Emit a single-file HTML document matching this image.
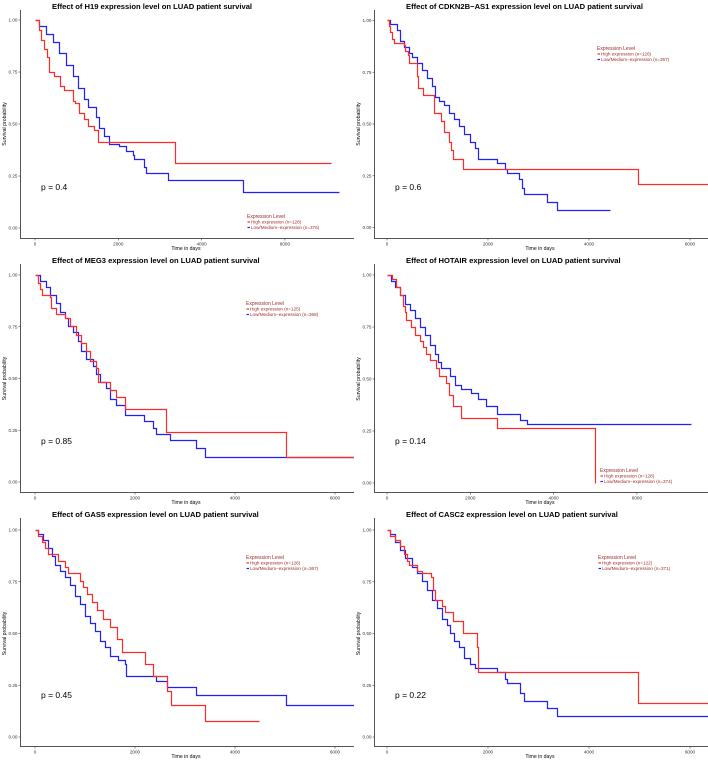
<!DOCTYPE html>
<html><head><meta charset="utf-8">
<style>
html,body{margin:0;padding:0;background:#fff;}
svg{display:block;font-family:"Liberation Sans",sans-serif;}
</style></head>
<body>
<svg id="fig" width="708" height="762" viewBox="0 0 708 762" xmlns="http://www.w3.org/2000/svg"></svg>
<script>
// ---- data (days, survival probability) ----
const p1RedT=[120,160,230,290,340,480,620,720,920,980,1080,1200,1280,1440,1520,3380];
const p1RedS=[0.95,0.90,0.86,0.82,0.75,0.73,0.68,0.66,0.61,0.60,0.55,0.52,0.49,0.47,0.41,0.31];
const p1BlueT=[120,280,440,600,760,920,1040,1200,1280,1480,1560,1680,1800,2040,2200,2360,2400,2640,2680,3200,5000];
const p1BlueS=[0.97,0.93,0.89,0.84,0.78,0.73,0.67,0.62,0.58,0.53,0.48,0.44,0.40,0.39,0.37,0.35,0.33,0.29,0.26,0.23,0.17];
const p2RedT=[40,73,106,150,340,370,420,436,600,630,730,950,1076,1142,1241,1274,1307,1511,4976];
const p2RedS=[0.97,0.94,0.91,0.89,0.88,0.85,0.83,0.79,0.73,0.67,0.64,0.55,0.51,0.46,0.41,0.37,0.33,0.28,0.21];
const p2BlueT=[73,205,270,340,436,500,600,700,800,900,964,1030,1130,1228,1327,1426,1525,1657,1756,1802,2185,2350,2396,2614,2680,2713,3175,3373];
const p2BlueS=[0.98,0.95,0.90,0.87,0.84,0.82,0.79,0.76,0.72,0.68,0.63,0.61,0.59,0.55,0.52,0.49,0.45,0.41,0.38,0.33,0.31,0.28,0.26,0.23,0.19,0.16,0.12,0.08];
const p3RedT=[67,100,153,300,333,420,600,700,833,933,1020,1100,1233,1267,1500,1620,1800,2633,5020];
const p3RedS=[0.96,0.93,0.90,0.89,0.84,0.81,0.79,0.75,0.71,0.67,0.63,0.58,0.55,0.48,0.44,0.41,0.35,0.24,0.12];
const p3BlueT=[100,233,300,433,500,600,667,767,867,933,1033,1167,1233,1300,1433,1500,1633,1800,2180,2367,2420,2713,3220,3413];
const p3BlueS=[0.97,0.94,0.90,0.86,0.82,0.79,0.75,0.72,0.68,0.63,0.59,0.56,0.52,0.48,0.45,0.40,0.37,0.32,0.29,0.26,0.23,0.20,0.16,0.12];
const p4RedT=[144,240,320,400,440,480,600,680,800,880,960,1056,1184,1264,1440,1504,1600,1800,2656,5000];
const p4RedS=[0.98,0.94,0.90,0.85,0.82,0.78,0.75,0.71,0.68,0.65,0.62,0.59,0.55,0.51,0.48,0.42,0.37,0.31,0.26,0.0];
const p4BlueT=[120,200,320,440,560,680,800,920,1040,1160,1240,1320,1520,1640,1800,2040,2200,2400,2656,3200,3376];
const p4BlueS=[0.97,0.94,0.90,0.86,0.83,0.79,0.75,0.71,0.66,0.62,0.58,0.55,0.51,0.47,0.45,0.43,0.40,0.37,0.33,0.30,0.28];
const p5RedT=[73,140,207,273,473,607,673,907,973,1040,1140,1240,1373,1507,1640,1740,2207,2360,2653,2720,3407];
const p5RedS=[0.97,0.94,0.91,0.88,0.85,0.82,0.79,0.75,0.72,0.69,0.65,0.61,0.57,0.53,0.47,0.41,0.35,0.29,0.22,0.15,0.075];
const p5BlueT=[73,173,273,340,407,507,607,707,807,907,1007,1107,1207,1307,1407,1507,1673,1807,1827,2420,2653,3220,5027];
const p5BlueS=[0.98,0.95,0.91,0.87,0.83,0.80,0.77,0.73,0.68,0.64,0.58,0.55,0.51,0.46,0.43,0.39,0.37,0.35,0.29,0.27,0.24,0.20,0.15];
const p6RedT=[73,172,270,337,403,436,600,700,878,917,964,1096,1162,1314,1512,1789,1809,4977];
const p6RedS=[0.97,0.95,0.92,0.88,0.85,0.83,0.80,0.79,0.77,0.71,0.66,0.63,0.60,0.56,0.50,0.43,0.31,0.16];
const p6BlueT=[73,172,270,370,502,600,700,800,898,997,1096,1195,1261,1327,1426,1525,1657,1756,2185,2350,2396,2634,2713,3175,3373];
const p6BlueS=[0.98,0.94,0.90,0.86,0.82,0.79,0.75,0.71,0.66,0.62,0.57,0.54,0.50,0.46,0.43,0.38,0.35,0.33,0.31,0.28,0.26,0.21,0.17,0.14,0.10];
const genes=["H19","CDKN2B\u2212AS1","MEG3","HOTAIR","GAS5","CASC2"];
const pValues=["0.4","0.6","0.85","0.14","0.45","0.22"];
const nHigh=[128,126,125,128,126,122];
const nLow=[376,367,368,374,367,371];
const redEnd=[7120,6400,6400,5000,4480,6400];
const blueEnd=[7320,4429,6400,7320,6400,6400];
const xTicks=[0,2000,4000,6000];
const yTicks=[0,0.25,0.5,0.75,1];
const yTickLabels=["0.00","0.25","0.50","0.75","1.00"];

const panels=[
 {ox:0,oy:0,x0:35,k:83.3,y1:20,y0:228,lx:247,ly:218,red:[p1RedT,p1RedS],blue:[p1BlueT,p1BlueS]},
 {ox:354,oy:0,x0:33,k:101,y1:20.5,y0:227.5,lx:243,ly:50,red:[p2RedT,p2RedS],blue:[p2BlueT,p2BlueS]},
 {ox:0,oy:254,x0:35,k:100,y1:21,y0:228,lx:246,ly:51,red:[p3RedT,p3RedS],blue:[p3BlueT,p3BlueS]},
 {ox:354,oy:254,x0:33,k:83.3,y1:21,y0:229,lx:246,ly:218,red:[p4RedT,p4RedS],blue:[p4BlueT,p4BlueS]},
 {ox:0,oy:508,x0:35,k:100,y1:22,y0:229,lx:246,ly:51,red:[p5RedT,p5RedS],blue:[p5BlueT,p5BlueS]},
 {ox:354,oy:508,x0:33,k:101,y1:22,y0:229,lx:244,ly:51,red:[p6RedT,p6RedS],blue:[p6BlueT,p6BlueS]}
];
const NS="http://www.w3.org/2000/svg";
const fig=document.getElementById('fig');
function mk(tag,attrs,parent){const e=document.createElementNS(NS,tag);for(const a in attrs)e.setAttribute(a,attrs[a]);parent.appendChild(e);return e;}
function txt(parent,x,y,s,attrs){const e=mk('text',Object.assign({x:x,y:y},attrs||{}),parent);e.textContent=s;return e;}
const snap=v=>Math.round(v-0.5)+0.5;

panels.forEach((P,i)=>{
 const g=mk('g',{transform:`translate(${P.ox},${P.oy})`},fig);
 
 
 const xs=t=>P.x0+t/2000*P.k;
 const ys=s=>P.y0-s*(P.y0-P.y1);
 const cp=mk('clipPath',{id:'clip'+i},g);
 mk('rect',{x:20,y:0,width:334,height:238},cp);
 const title=txt(g,52,9,`Effect of ${genes[i]} expression level on LUAD patient survival`,{'font-size':'7.6','font-weight':'bold',fill:'#000'});
 
 
 const ax=mk('path',{d:`M20.5 10 V238.5 H354`,stroke:'#555',fill:'none','stroke-width':'1'},g);
 
 
 yTicks.forEach((v,j)=>{
  mk('line',{x1:18.5,x2:20.5,y1:ys(v),y2:ys(v),stroke:'#444','stroke-width':'0.6'},g);
  const t=txt(g,17.5,ys(v)+1.6,yTickLabels[j],{'font-size':'4.6','text-anchor':'end',fill:'#333'});
  
  
 });
 xTicks.forEach(v=>{
  if(xs(v)>354)return;
  mk('line',{x1:xs(v),x2:xs(v),y1:238.5,y2:240.5,stroke:'#444','stroke-width':'0.6'},g);
  const t=txt(g,xs(v),245.5,String(v),{'font-size':'4.6','text-anchor':'middle',fill:'#333'});
  
  
 });
 const xt=txt(g,186,250,'Time in days',{'font-size':'5.2','text-anchor':'middle',fill:'#000'});
 
 
 const yt=txt(g,0,0,'Survival probability',{'font-size':'5.2','text-anchor':'middle',fill:'#000',transform:`translate(6,${(P.y0+P.y1)/2}) rotate(-90)`});
 
 
 [['blue','#2020ff',P.blue,blueEnd[i]],['red','#ff2a2a',P.red,redEnd[i]]].forEach(([nm,col,ser,end])=>{
  const T=ser[0],S=ser[1];
  let d=`M${snap(xs(0))} ${snap(ys(1))}`;
  for(let j=0;j<T.length;j++){d+=` H${snap(xs(T[j]))} V${snap(ys(S[j]))}`;}
  d+=` H${snap(xs(end))}`;
  const p=mk('path',{d:d,stroke:col,fill:'none','stroke-width':'1.2','clip-path':`url(#clip${i})`},g);
  
  
 });
 const pv=txt(g,41,190,'p = '+pValues[i],{'font-size':'8.5',fill:'#000'});
 
 
 const lg=mk('g',{},g);
 
 
 txt(lg,P.lx,P.ly,'Expression Level',{'font-size':'5','fill':'#9b2a2a'});
 mk('line',{x1:P.lx+0.5,x2:P.lx+3,y1:P.ly+4,y2:P.ly+4,stroke:'#ff2a2a','stroke-width':'1.2'},lg);
 txt(lg,P.lx+4,P.ly+5.7,`High expression (n=${nHigh[i]})`,{'font-size':'4.6','fill':'#9b2a2a'});
 mk('line',{x1:P.lx+0.5,x2:P.lx+3,y1:P.ly+9.5,y2:P.ly+9.5,stroke:'#2020ff','stroke-width':'1.2'},lg);
 txt(lg,P.lx+4,P.ly+11.2,`Low/Medium\u2212expression (n=${nLow[i]})`,{'font-size':'4.6','fill':'#9b2a2a'});
});
</script>
</body></html>
